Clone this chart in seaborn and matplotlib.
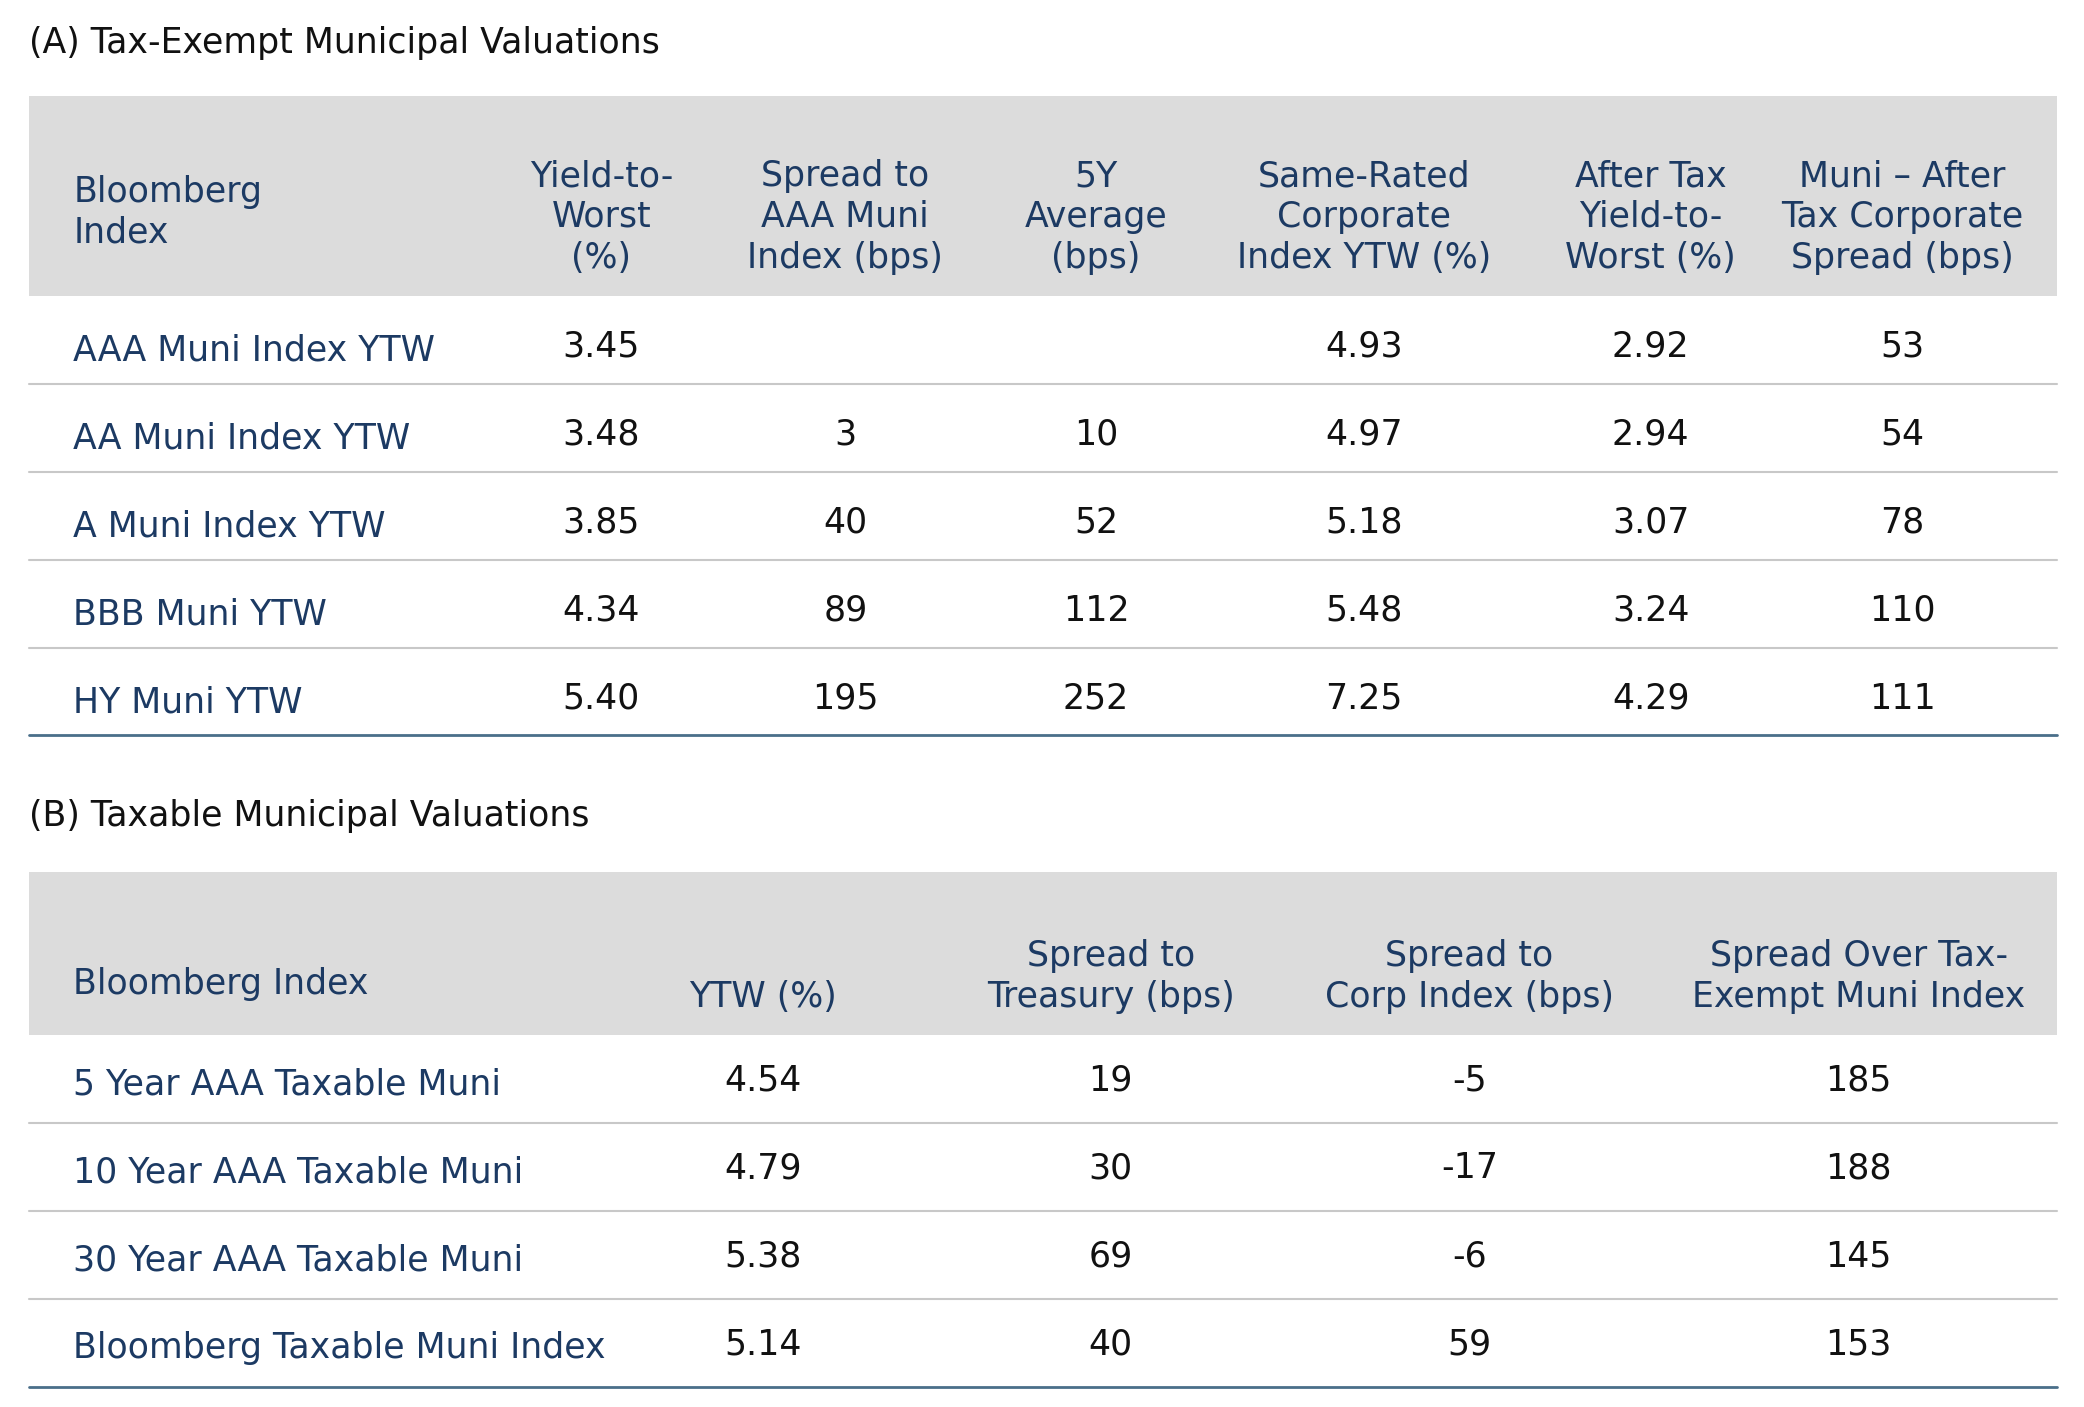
import matplotlib
matplotlib.use("Agg")
import matplotlib.pyplot as plt
import seaborn as sns
import pandas as pd
from matplotlib.font_manager import findfont, FontProperties

sns.set_theme(style="white")

title_a = "(A) Tax-Exempt Municipal Valuations"
headers_a = ["Bloomberg\nIndex", "Yield-to-\nWorst\n(%)", "Spread to\nAAA Muni\nIndex (bps)",
             "5Y\nAverage\n(bps)", "Same-Rated\nCorporate\nIndex YTW (%)",
             "After Tax\nYield-to-\nWorst (%)", "Muni – After\nTax Corporate\nSpread (bps)"]
rows_a = ["AAA Muni Index YTW", "AA Muni Index YTW", "A Muni Index YTW", "BBB Muni YTW", "HY Muni YTW"]
ytw_a = ["3.45", "3.48", "3.85", "4.34", "5.40"]
spread_aaa = ["", "3", "40", "89", "195"]
avg5y = ["", "10", "52", "112", "252"]
corp_ytw = ["4.93", "4.97", "5.18", "5.48", "7.25"]
after_tax = ["2.92", "2.94", "3.07", "3.24", "4.29"]
muni_corp = ["53", "54", "78", "110", "111"]

title_b = "(B) Taxable Municipal Valuations"
headers_b = ["Bloomberg Index", "YTW (%)", "Spread to\nTreasury (bps)", "Spread to\nCorp Index (bps)",
             "Spread Over Tax-\nExempt Muni Index"]
rows_b = ["5 Year AAA Taxable Muni", "10 Year AAA Taxable Muni", "30 Year AAA Taxable Muni",
          "Bloomberg Taxable Muni Index"]
ytw_b = ["4.54", "4.79", "5.38", "5.14"]
spread_tsy = ["19", "30", "69", "40"]
spread_corp = ["-5", "-17", "-6", "59"]
spread_taxex = ["185", "188", "145", "153"]

df_a = pd.DataFrame({"r": rows_a, "c1": ytw_a, "c2": spread_aaa, "c3": avg5y,
                     "c4": corp_ytw, "c5": after_tax, "c6": muni_corp})
df_b = pd.DataFrame({"r": rows_b, "c1": ytw_b, "c2": spread_tsy, "c3": spread_corp, "c4": spread_taxex})

fam = "Liberation Sans Narrow"
try:
    p = findfont(FontProperties(family=fam), fallback_to_default=False)
except Exception:
    fam = "DejaVu Sans"

W, H = 1563.0, 1055.0
fig = plt.figure(figsize=(20.84, 14.07), dpi=100)
ax = fig.add_axes([0, 0, 1, 1])
ax.set_xlim(0, W); ax.set_ylim(H, 0); ax.axis("off")

NAVY = "#1c3a63"
GRAY = "#dcdcdc"
FS = 25

def table(df, headers, title, title_y, hdr_top, hdr_bot, row_y, seps, bottom, col_x):
    ax.text(22, title_y, title, fontsize=FS, family=fam, color="#111111", va="center", ha="left")
    ax.add_patch(plt.Rectangle((22, hdr_top), 1521, hdr_bot - hdr_top, color=GRAY, lw=0))
    ax.text(55, (hdr_top + hdr_bot) / 2 + 12 if "\n" in headers[0] else hdr_bot - 38, headers[0],
            fontsize=FS, family=fam, color=NAVY, va="center", ha="left", linespacing=1.25)
    for h, x in zip(headers[1:], col_x):
        ax.text(x, hdr_bot - 16, h, fontsize=FS, family=fam, color=NAVY, va="bottom", ha="center",
                linespacing=1.25, multialignment="center")
    for i, (_, r) in enumerate(df.iterrows()):
        y = row_y[i]
        ax.text(55, y + 3, r["r"], fontsize=FS, family=fam, color=NAVY, va="center", ha="left")
        for j, x in enumerate(col_x):
            ax.text(x, y, r[f"c{j+1}"], fontsize=FS, family=fam, color="#111111", va="center", ha="center")
    for s in seps:
        ax.plot([22, 1543], [s, s], color="#c8c8c8", lw=1.5)
    ax.plot([22, 1543], [bottom, bottom], color="#4a6f8a", lw=2)

table(df_a, headers_a, title_a, 32, 72, 222, [260, 326, 392, 458, 524], [288, 354, 420, 486], 551,
      [451, 634, 822, 1023, 1238, 1427])
table(df_b, headers_b, title_b, 612, 654, 776, [810, 876, 942, 1008], [842, 908, 974], 1040,
      [572, 833, 1102, 1394])

fig.savefig("out.png", dpi=100, facecolor="white")
